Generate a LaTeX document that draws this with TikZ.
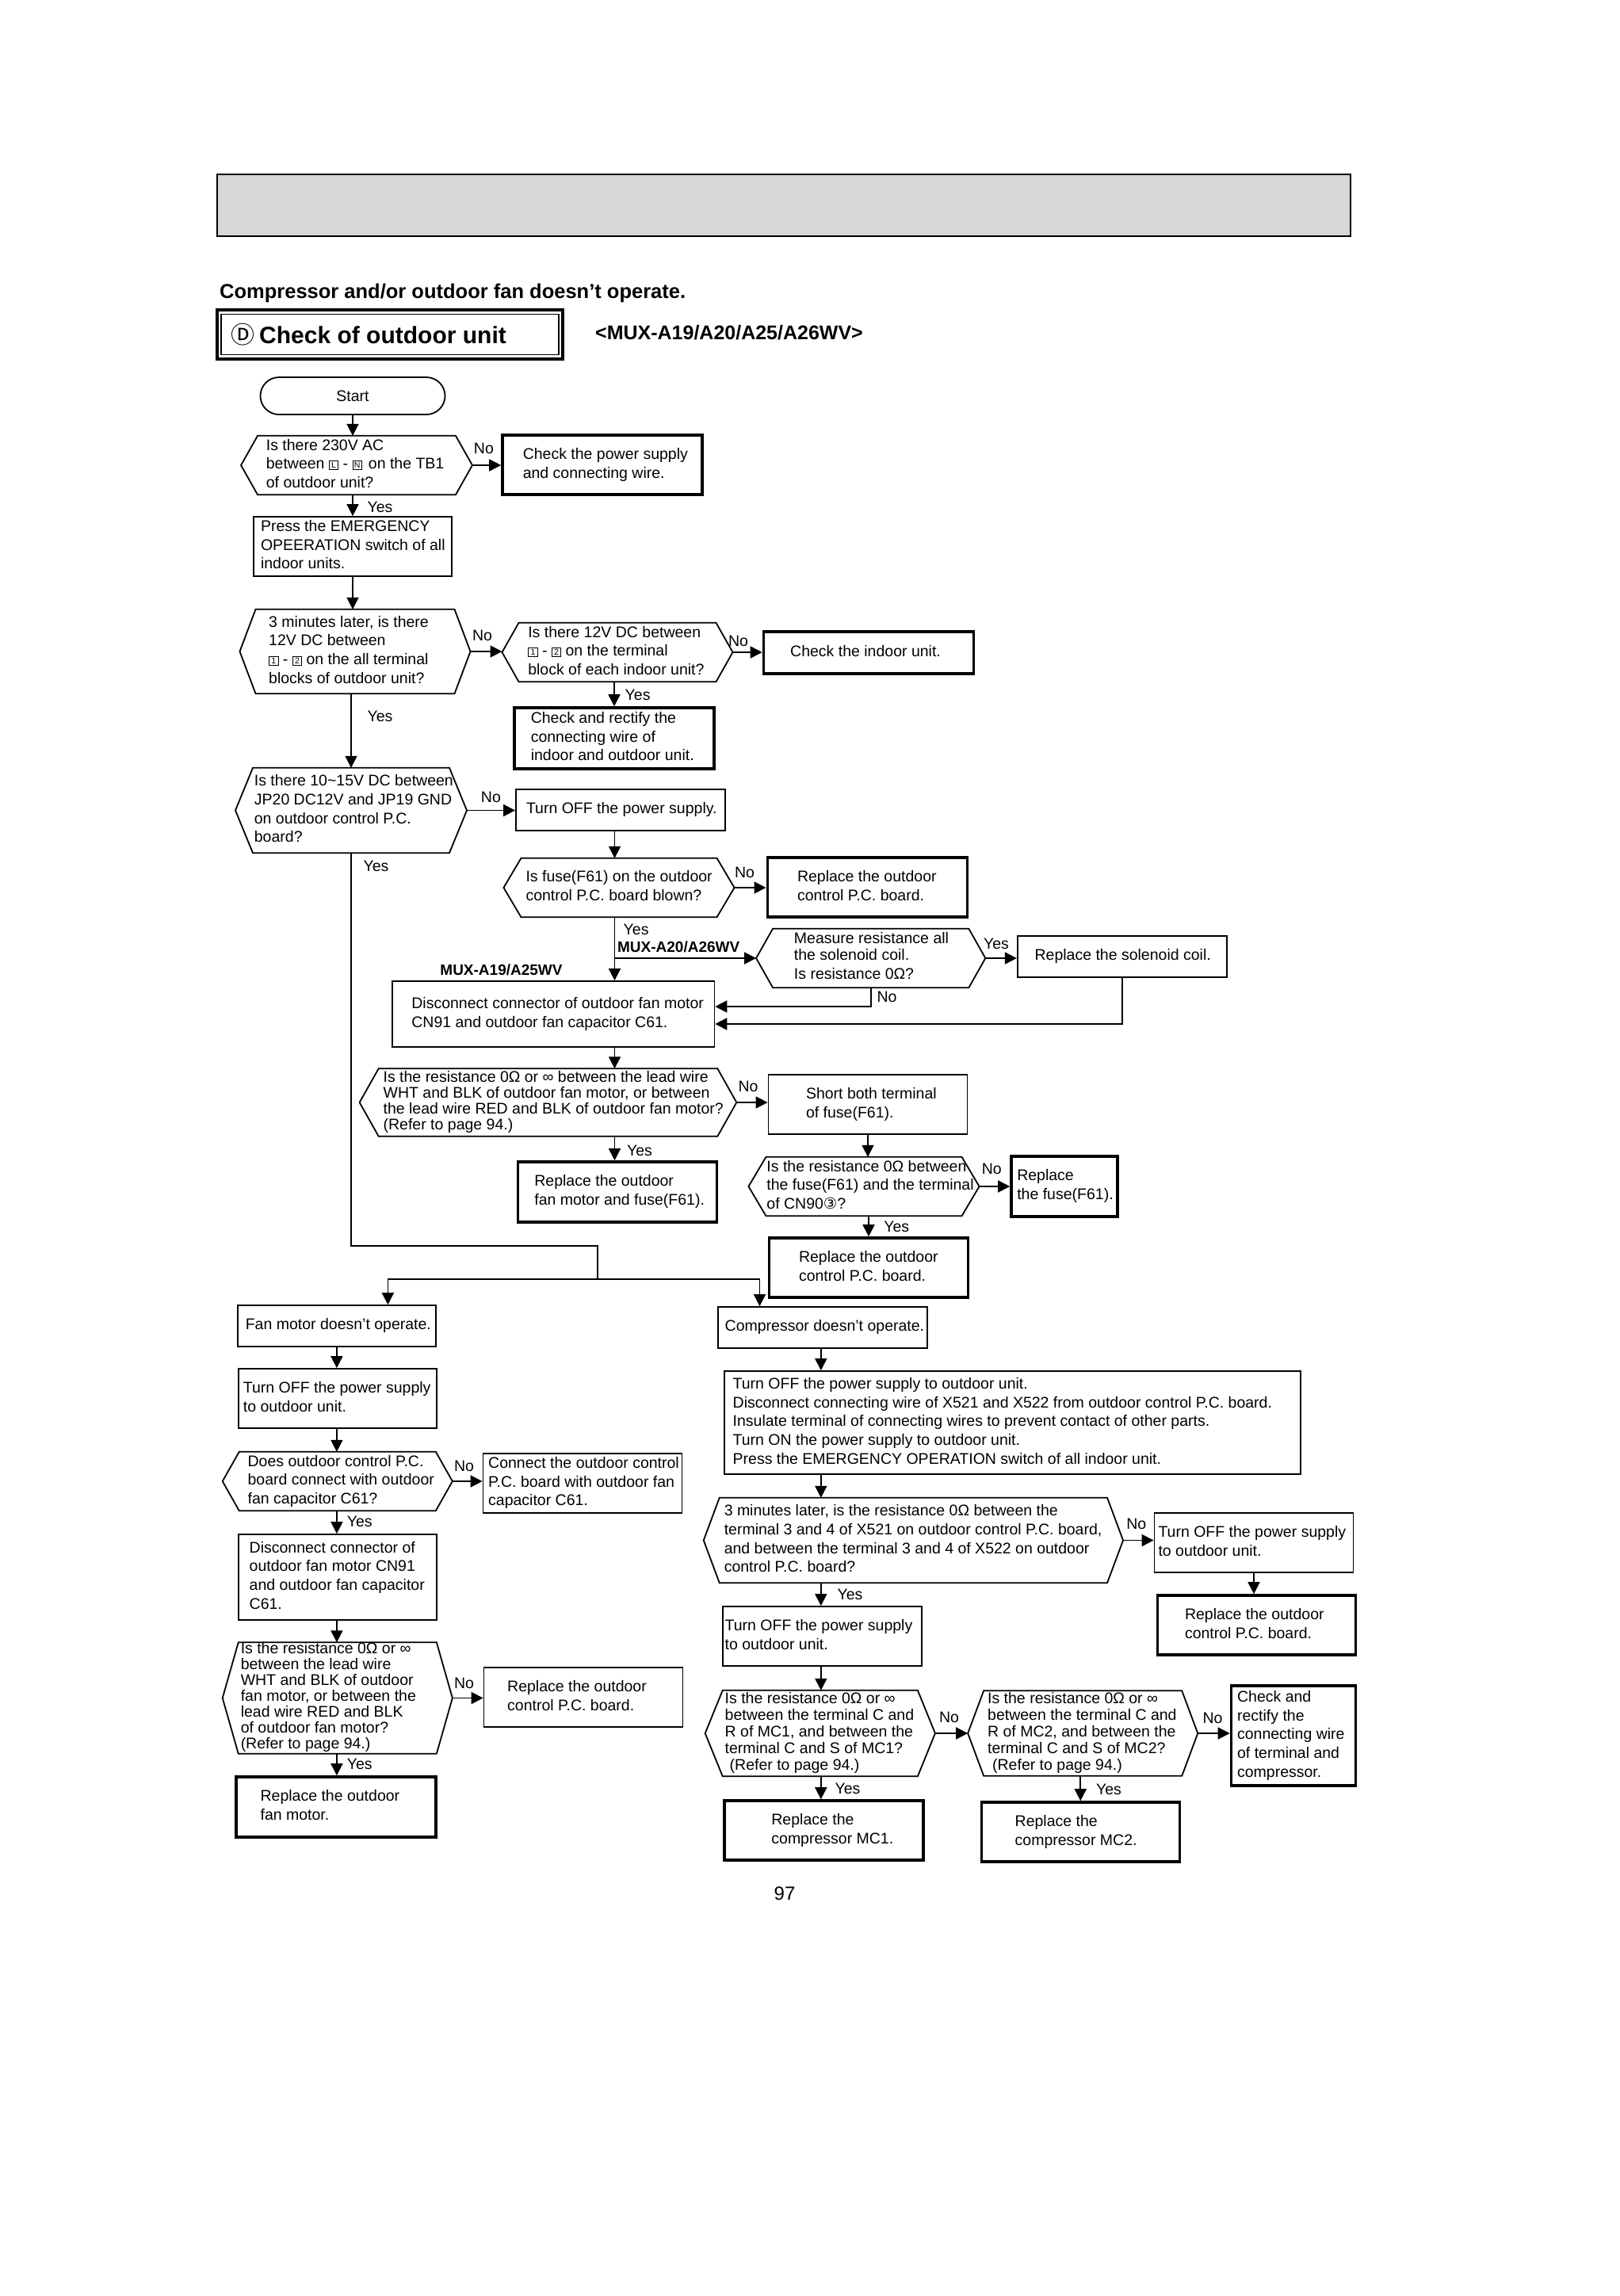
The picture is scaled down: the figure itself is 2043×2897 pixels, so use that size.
\documentclass[tikz,border=0pt]{standalone}
\usepackage{fontspec}
\setmainfont{Liberation Sans}
\newfontfamily\dejavu{DejaVu Sans}
\newfontfamily\cjk{Noto Sans CJK SC}
\usetikzlibrary{arrows.meta}
\definecolor{hdrgray}{RGB}{215,215,213}
\newcommand\tl[2]{\makebox[#1pt][l]{\begin{tabular}{@{}l@{}}#2\end{tabular}}}
\newcommand\bx[1]{{\fboxsep=1.6pt\fboxrule=0.8pt\raisebox{1pt}{\fbox{\fontsize{10.5}{10.5}\selectfont\makebox[7.5pt]{#1}}}}}
\newcommand\hexdraw[2]{\draw[hexline] (#1.west) -- ([xshift=#2pt]#1.north west) -- ([xshift=-#2pt]#1.north east) -- (#1.east) -- ([xshift=-#2pt]#1.south east) -- ([xshift=#2pt]#1.south west) -- cycle;}
\tikzset{
  every node/.append style={inner sep=0pt},
  txt/.style={font=\fontsize{19.5}{23.7}\selectfont},
  tbox/.style={draw, line width=1.8pt, txt},
  kbox/.style={draw, line width=3.6pt, txt},
  hexn/.style={txt},
  hexline/.style={line width=1.8pt, line join=miter},
  ln/.style={line width=1.8pt},
  arr/.style={line width=1.8pt, -{Triangle[length=15pt,width=15pt]}},
  lab/.style={txt},
  tight/.style={font=\fontsize{19.5}{19.6}\selectfont},
  mid/.style={font=\fontsize{19.5}{21}\selectfont},
  boldlab/.style={font=\bfseries\fontsize{19}{22}\selectfont},
}
\begin{document}
\begin{tikzpicture}[x=1pt,y=-1pt]
\fill[white] (0,0) rectangle (2043,2897);
\useasboundingbox (0,0) rectangle (2043,2897);

% header
\node[draw, line width=2pt, fill=hdrgray, minimum width=1430pt, minimum height=78pt] (hdr) at (989,259) {};
\node[anchor=base west, font=\bfseries\fontsize{25.5}{30}\selectfont] (h1) at (277,376) {Compressor and/or outdoor fan doesn’t operate.};
\node[draw, line width=3.5pt, minimum width=436pt, minimum height=62pt] (tbo) at (492,422) {};
\node[draw, line width=1.8pt, minimum width=426pt, minimum height=51pt] (tbi) at (492,422) {};
\node[anchor=base west, font=\bfseries\fontsize{30}{34}\selectfont] (tt) at (291,433) {{\cjk\mdseries\fontsize{30}{32}\selectfont Ⓓ}\hspace{6pt}Check of outdoor unit};
\node[anchor=base west, font=\bfseries\fontsize{25}{30}\selectfont] (mt) at (751,428) {<MUX-A19/A20/A25/A26WV>};

% top part
\node[tbox, rounded corners=23.5pt, minimum width=233pt, minimum height=47pt] (start) at (445,499.5) {Start};

\node[hexn, minimum width=291.5pt, minimum height=74pt] (d1) at (450,587) {\tl{228.3}{Is there 230V AC\\between \bx{L} - \bx{N}\hspace{8pt}on the TB1\\of outdoor unit?}};
\hexdraw{d1}{21}

\node[kbox, minimum width=252pt, minimum height=75pt] (b1) at (760,586.5) {\tl{200.4}{Check the power supply\\and connecting wire.}};

\node[tbox, minimum width=250pt, minimum height=75pt] (p1) at (445,689.5) {\tl{232}{Press the EMERGENCY\\OPEERATION switch of all\\indoor units.}};

\node[hexn, minimum width=290.6pt, minimum height=106pt] (d2) at (448,822) {\tl{217.6}{3 minutes later, is there\\12V DC between\\\bx{1} - \bx{2} on the all terminal\\blocks of outdoor unit?}};
\hexdraw{d2}{20}

\node[hexn, minimum width=290.6pt, minimum height=74pt] (d3) at (779,823) {\tl{225.4}{Is there 12V DC between\\\bx{1} - \bx{2} on the terminal\\block of each indoor unit?}};
\hexdraw{d3}{21}

\node[kbox, minimum width=265pt, minimum height=53pt] (b2) at (1096,823.5) {\tl{197.6}{Check the indoor unit.}};

\node[kbox, minimum width=252pt, minimum height=77pt] (b3) at (775,931.5) {\tl{210.4}{Check and rectify the\\connecting wire of\\indoor and outdoor unit.}};

\node[hexn, minimum width=291.6pt, minimum height=107pt] (d4) at (443,1022.5) {\tl{244.2}{Is there 10\textasciitilde15V DC between\\JP20 DC12V and JP19 GND\\on outdoor control P.C.\\board?}};
\hexdraw{d4}{22}

\node[tbox, minimum width=264pt, minimum height=52pt] (b4) at (783,1022) {\tl{238}{Turn OFF the power supply.}};

\node[hexn, minimum width=290.7pt, minimum height=74pt] (d5) at (781,1120) {\tl{235}{Is fuse(F61) on the outdoor\\control P.C. board blown?}};
\hexdraw{d5}{22}

\node[kbox, minimum width=252pt, minimum height=75pt] (b5) at (1094.3,1119.5) {\tl{176.6}{Replace the outdoor\\control P.C. board.}};

\node[hexn, font=\fontsize{19.5}{20}\selectfont, minimum width=288.9pt, minimum height=74pt] (d6) at (1098.7,1209) {\tl{193.5}{Measure resistance all\\the solenoid coil.\\[4pt]Is resistance 0Ω?}};
\hexdraw{d6}{21}

\node[tbox, minimum width=264pt, minimum height=52pt] (b6) at (1415.8,1207) {\tl{220.4}{Replace the solenoid coil.}};

\node[tbox, minimum width=406.8pt, minimum height=83pt] (b7) at (698,1279.5) {\tl{357.2}{Disconnect connector of outdoor fan motor\\CN91 and outdoor fan capacitor C61.}};

\node[hexn, tight, minimum width=475.3pt, minimum height=85pt] (d7) at (691.5,1391) {\tl{415.7}{Is the resistance 0Ω or ∞ between the lead wire\\WHT and BLK of outdoor fan motor, or between\\the lead wire RED and BLK of outdoor fan motor?\\(Refer to page 94.)}};
\hexdraw{d7}{24}

\node[tbox, minimum width=251pt, minimum height=75pt] (b8) at (1095,1393.5) {\tl{156}{Short both terminal\\of fuse(F61).}};

\node[hexn, minimum width=290.7pt, minimum height=74pt] (d8) at (1090,1497) {\tl{245.1}{Is the resistance 0Ω between\\the fuse(F61) and the terminal\\of CN90{\dejavu ③}?}};
\hexdraw{d8}{22}

\node[kbox, minimum width=134pt, minimum height=76pt] (b9) at (1343,1497) {\tl{119.4}{Replace\\the fuse(F61).}};

\node[kbox, minimum width=251pt, minimum height=75pt] (b10) at (1096,1599.5) {\tl{176}{Replace the outdoor\\control P.C. board.}};

\node[kbox, minimum width=251pt, minimum height=76pt] (b11) at (778.9,1504) {\tl{209}{Replace the outdoor\\fan motor and fuse(F61).}};

% left column
\node[tbox, minimum width=250pt, minimum height=52pt] (b12) at (424.9,1673) {\tl{230.2}{Fan motor doesn't operate.}};
\node[tbox, minimum width=250pt, minimum height=75pt] (b13) at (425.9,1764.5) {\tl{238}{Turn OFF the power supply\\to outdoor unit.}};
\node[hexn, minimum width=289.7pt, minimum height=74pt] (d9) at (425.8,1869) {\tl{226.3}{Does outdoor control P.C.\\board connect with outdoor\\fan capacitor C61?}};
\hexdraw{d9}{21}
\node[tbox, minimum width=251pt, minimum height=75pt] (b14) at (735,1871.5) {\tl{237.6}{Connect the outdoor control\\P.C. board with outdoor fan\\capacitor C61.}};
\node[tbox, minimum width=250pt, minimum height=108pt] (b15) at (425.9,1990) {\tl{222.4}{Disconnect connector of\\outdoor fan motor CN91\\and outdoor fan capacitor\\C61.}};
\node[hexn, tight, minimum width=289.7pt, minimum height=139pt] (d10) at (425.8,2142.5) {\tl{244.1}{Is the resistance 0Ω or ∞\\between the lead wire\\WHT and BLK of outdoor\\fan motor, or between the\\lead wire RED and BLK\\of outdoor fan motor?\\(Refer to page 94.)}};
\hexdraw{d10}{20}
\node[tbox, minimum width=251pt, minimum height=75pt] (b16) at (736,2141.5) {\tl{191.6}{Replace the outdoor\\control P.C. board.}};
\node[kbox, minimum width=252pt, minimum height=76pt] (b17) at (423.9,2280) {\tl{190.6}{Replace the outdoor\\fan motor.}};

% right column
\node[tbox, minimum width=264pt, minimum height=52pt] (b18) at (1037.8,1675) {\tl{246.2}{Compressor doesn't operate.}};
\node[tbox, minimum width=727.4pt, minimum height=130pt] (b19) at (1277.4,1795) {\tl{705.4}{Turn OFF the power supply to outdoor unit.\\Disconnect connecting wire of X521 and X522 from outdoor control P.C. board.\\Insulate terminal of connecting wires to prevent contact of other parts.\\Turn ON the power supply to outdoor unit.\\Press the EMERGENCY OPERATION switch of all indoor unit.}};
\node[hexn, minimum width=528.9pt, minimum height=107pt] (d11) at (1152.4,1943.5) {\tl{477.3}{3 minutes later, is the resistance 0Ω between the\\terminal 3 and 4 of X521 on outdoor control P.C. board,\\and between the terminal 3 and 4 of X522 on outdoor\\control P.C. board?}};
\hexdraw{d11}{20}
\node[tbox, minimum width=251pt, minimum height=75pt] (b20) at (1582,1946.5) {\tl{241}{Turn OFF the power supply\\to outdoor unit.}};
\node[kbox, minimum width=250pt, minimum height=75pt] (b21) at (1585.5,2050.5) {\tl{181}{Replace the outdoor\\control P.C. board.}};
\node[tbox, minimum width=251pt, minimum height=75pt] (b22) at (1037.3,2064.5) {\tl{245.2}{Turn OFF the power supply\\to outdoor unit.}};
\node[hexn, mid, minimum width=289.8pt, minimum height=108pt] (d12) at (1034.8,2187) {\tl{240.2}{Is the resistance 0Ω or ∞\\between the terminal C and\\R of MC1, and between the\\terminal C and S of MC1?\\\hspace{6pt}(Refer to page 94.)}};
\hexdraw{d12}{22}
\node[hexn, mid, minimum width=289.7pt, minimum height=107pt] (d13) at (1366.2,2187) {\tl{240.1}{Is the resistance 0Ω or ∞\\between the terminal C and\\R of MC2, and between the\\terminal C and S of MC2?\\\hspace{6pt}(Refer to page 94.)}};
\hexdraw{d13}{20}
\node[kbox, minimum width=157pt, minimum height=126pt] (b23) at (1632,2190) {\tl{141.8}{Check and\\rectify the\\connecting wire\\of terminal and\\compressor.}};
\node[kbox, minimum width=251pt, minimum height=75pt] (b24) at (1039.3,2309.5) {\tl{131.8}{Replace the\\compressor MC1.}};
\node[kbox, minimum width=250pt, minimum height=75pt] (b25) at (1363.3,2311.5) {\tl{165.2}{Replace the\\compressor MC2.}};

\node[anchor=base, font=\fontsize{24}{28}\selectfont] (pg) at (990,2397) {97};

% coordinates
\coordinate (cL) at (445,0);
\coordinate (cL2) at (443,0);
\coordinate (cA) at (775.5,0);
\coordinate (cLL) at (424.9,0);
\coordinate (cR) at (1035.8,0);
\coordinate (j1) at (0,1270);
\coordinate (j2) at (0,1292);
\coordinate (k1) at (443,1572);
\coordinate (k2) at (754.3,1572);
\coordinate (k3) at (754.3,1614);
\coordinate (k4) at (489.4,1614);
\coordinate (k5) at (958.5,1614);

% connectors
\draw[arr] (cL |- start.south) -- (cL |- d1.north);
\draw[arr] (d1.east) -- (d1.east -| b1.west);
\draw[arr] (cL |- d1.south) -- (cL |- p1.north);
\draw[arr] (cL |- p1.south) -- (cL |- d2.north);
\draw[arr] (d2.east) -- (d2.east -| d3.west);
\draw[arr] (d3.east) -- (d3.east -| b2.west);
\draw[arr] (b3.north |- d3.south) -- (b3.north);
\draw[arr] (cL2 |- d2.south) -- (cL2 |- d4.north);
\draw[arr] (d4.east) -- (d4.east -| b4.west);
\draw[arr] (cA |- b4.south) -- (cA |- d5.north);
\draw[arr] (d5.east) -- (d5.east -| b5.west);
\draw[arr] (cA |- d5.south) -- (cA |- b7.north);
\draw[arr] (cA |- d6.west) -- (d6.west);
\draw[arr] (d6.east) -- (d6.east -| b6.west);
\draw[arr] (d6.south) |- (b7.east |- j1);
\draw[arr] (b6.south) |- (b7.east |- j2);
\draw[arr] (cA |- b7.south) -- (cA |- d7.north);
\draw[arr] (d7.east) -- (d7.east -| b8.west);
\draw[arr] (b8.south) -- (b8.south |- d8.north);
\draw[arr] (d8.east) -- (d8.east -| b9.west);
\draw[arr] (b10.north |- d8.south) -- (b10.north);
\draw[arr] (cA |- d7.south) -- (cA |- b11.north);

\draw[ln] (d4.south) -- (k1) -- (k2) -- (k3);
\draw[arr] (k3) -| (k4 |- b12.north);
\draw[arr] (k3) -| (k5 |- b18.north);

\draw[arr] (cLL |- b12.south) -- (cLL |- b13.north);
\draw[arr] (cLL |- b13.south) -- (cLL |- d9.north);
\draw[arr] (d9.east) -- (d9.east -| b14.west);
\draw[arr] (cLL |- d9.south) -- (cLL |- b15.north);
\draw[arr] (cLL |- b15.south) -- (cLL |- d10.north);
\draw[arr] (d10.east) -- (d10.east -| b16.west);
\draw[arr] (cLL |- d10.south) -- (cLL |- b17.north);

\draw[arr] (cR |- b18.south) -- (cR |- b19.north);
\draw[arr] (cR |- b19.south) -- (cR |- d11.north);
\draw[arr] (d11.east) -- (d11.east -| b20.west);
\draw[arr] (b20.south) -- (b20.south |- b21.north);
\draw[arr] (cR |- d11.south) -- (cR |- b22.north);
\draw[arr] (cR |- b22.south) -- (cR |- d12.north);
\draw[arr] (d12.east) -- (d12.east -| d13.west);
\draw[arr] (d13.east) -- (d13.east -| b23.west);
\draw[arr] (cR |- d12.south) -- (cR |- b24.north);
\draw[arr] (b25.north |- d13.south) -- (b25.north);

% labels
\node[lab] (l1) at (610.4,566) {No};
\node[lab] (l2) at (479.5,640) {Yes};
\node[lab] (l3) at (608.5,802) {No};
\node[lab] (l4) at (931.6,809) {No};
\node[lab] (l5) at (804.6,877) {Yes};
\node[lab] (l6) at (479.5,904) {Yes};
\node[lab] (l7) at (619.4,1006) {No};
\node[lab] (l8) at (474.5,1093) {Yes};
\node[lab] (l9) at (939.5,1101) {No};
\node[lab] (l10) at (802.6,1173) {Yes};
\node[boldlab] (m1) at (856.2,1195) {MUX-A20/A26WV};
\node[lab] (l11) at (1257,1191) {Yes};
\node[lab] (l12) at (1119,1258) {No};
\node[boldlab] (m2) at (632.5,1224) {MUX-A19/A25WV};
\node[lab] (l13) at (944,1371) {No};
\node[lab] (l14) at (807,1452) {Yes};
\node[lab] (l15) at (1251.3,1475) {No};
\node[lab] (l16) at (1131.2,1548) {Yes};
\node[lab] (l17) at (585.6,1850) {No};
\node[lab] (l18) at (453.7,1920) {Yes};
\node[lab] (l19) at (585.6,2124) {No};
\node[lab] (l20) at (453.7,2226) {Yes};
\node[lab] (l21) at (1433.7,1923) {No};
\node[lab] (l22) at (1072.5,2012) {Yes};
\node[lab] (l23) at (1197.5,2167) {No};
\node[lab] (l24) at (1530,2168) {No};
\node[lab] (l25) at (1069.5,2257) {Yes};
\node[lab] (l26) at (1399,2258) {Yes};
\end{tikzpicture}
\end{document}
